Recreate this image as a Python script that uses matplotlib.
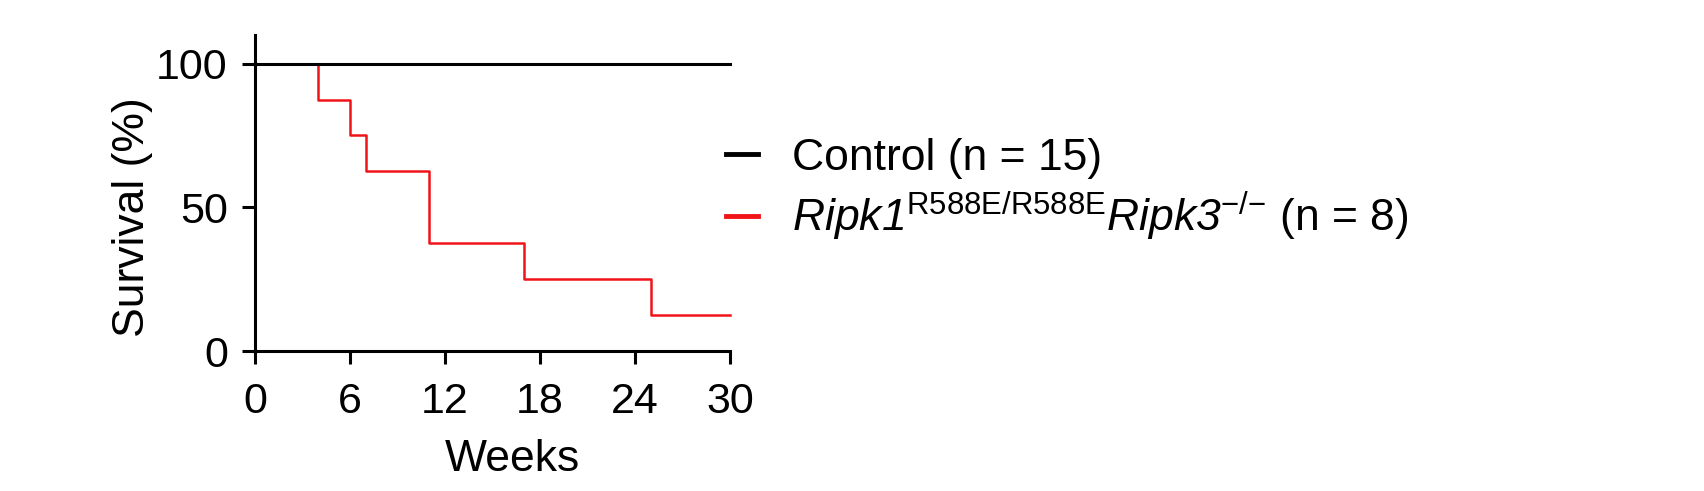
import numpy as np
import matplotlib.pyplot as plt

# Kaplan-Meier style survival data
control_weeks = [0, 30]
control_surv = [100, 100]

mutant_weeks = [0, 4, 6, 7, 11, 17, 25, 30]
mutant_surv = [100, 87.5, 75, 62.5, 37.5, 25, 12.5, 12.5]

xticks = [0, 6, 12, 18, 24, 30]
yticks = [0, 50, 100]

plt.rcParams['font.family'] = ['Liberation Sans', 'DejaVu Sans']
plt.rcParams['mathtext.fontset'] = 'custom'
# rm italic so the digits of the gene names come out slanted too
plt.rcParams['mathtext.rm'] = 'Liberation Sans:italic'
plt.rcParams['mathtext.it'] = 'Liberation Sans:italic'
plt.rcParams['mathtext.sf'] = 'Liberation Sans'
plt.rcParams['mathtext.bf'] = 'Liberation Sans:bold'

fig = plt.figure(figsize=(17.04, 4.91), dpi=100)
ax = fig.add_axes([0.1496, 0.285, 0.2788, 0.644])

ax.step(control_weeks, control_surv, where='post', color='black', lw=2.2,
        label='Control (n = 15)', clip_on=False, zorder=3)
ax.step(mutant_weeks, mutant_surv, where='post', color='#f01418', lw=1.8,
        label=r'$\mathrm{Ripk1}^{\mathsf{R588E/R588E}}\mathrm{Ripk3}^{\mathsf{{-}/{-}}}$ (n = 8)',
        clip_on=False, zorder=2)

ax.set_xlim(0, 30)
ax.set_ylim(0, 110)
ax.set_xticks(xticks)
ax.set_yticks(yticks)
ax.tick_params(labelsize=31, width=2.2, length=9.5)
ax.tick_params(axis='x', pad=13)
ax.tick_params(axis='y', pad=10)
for s in ['top', 'right']:
    ax.spines[s].set_visible(False)
for s in ['left', 'bottom']:
    ax.spines[s].set_linewidth(2.2)

ax.set_xlabel('Weeks', fontsize=32, labelpad=12)
ax.set_ylabel('Survival (%)', fontsize=32, labelpad=2.5)
# labels in the original are not centred on the axes
ax.xaxis.label.set_x(0.542)
ax.yaxis.label.set_y(0.424)

leg = fig.legend(loc='center left', bbox_to_anchor=(0.426, 0.612), frameon=False,
                 fontsize=32, handlelength=0.72, handletextpad=0.77,
                 labelspacing=0.25, borderpad=0, borderaxespad=0)
for line in leg.get_lines():
    line.set_linewidth(3.5)

fig.savefig('out.png', dpi=100)
